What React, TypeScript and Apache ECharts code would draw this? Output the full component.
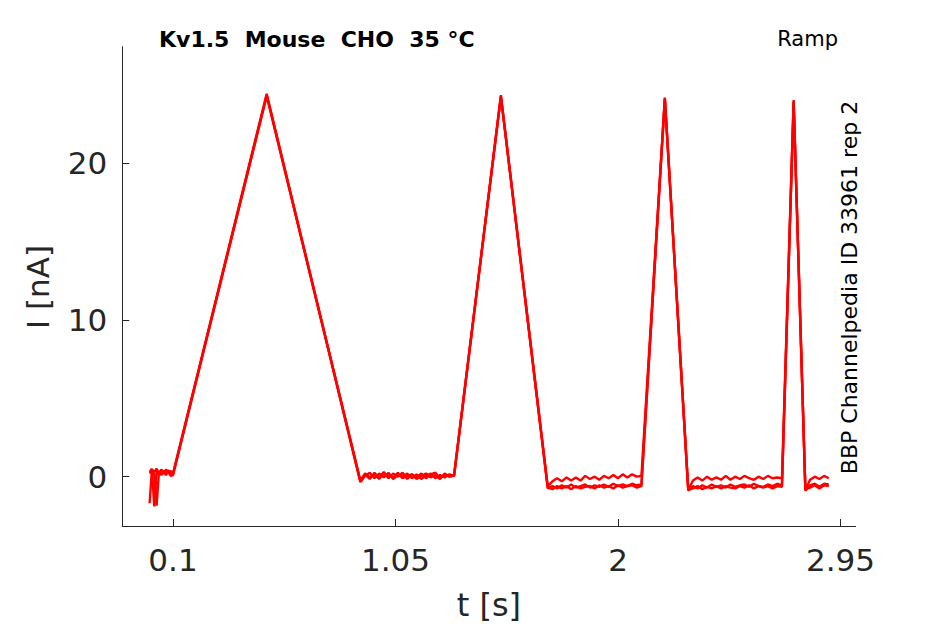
import React, { useEffect, useRef } from "react";
import * as echarts from "echarts";

// time samples [s] shared by all repetitions
const timeS = [
  0, 0.01, 0.02, 0.03, 0.04, 0.05, 0.06, 0.07, 0.08, 0.09, 0.1,
  0.5,
  0.9, 0.92, 0.94, 0.96, 0.98, 1.0, 1.02, 1.04, 1.06, 1.08, 1.1, 1.12, 1.14, 1.16, 1.18, 1.2, 1.22, 1.24, 1.26, 1.28, 1.3,
  1.5,
  1.7, 1.72, 1.74, 1.76, 1.78, 1.8, 1.82, 1.84, 1.86, 1.88, 1.9, 1.92, 1.94, 1.96, 1.98, 2.0, 2.02, 2.04, 2.06, 2.08, 2.1,
  2.2,
  2.3, 2.32, 2.34, 2.36, 2.38, 2.4, 2.42, 2.44, 2.46, 2.48, 2.5, 2.52, 2.54, 2.56, 2.58, 2.6, 2.62, 2.64, 2.66, 2.68, 2.7,
  2.75,
  2.8, 2.82, 2.84, 2.86, 2.88, 2.9,
];

// current [nA], repetition A
const currentA = [
  -1.7, 0.45, 0.3, 0.5, 0.25, 0.4, 0.2, 0.45, 0.3, 0.35, 0.2,
  24.45,
  -0.3, 0.15, -0.15, 0.25, -0.05, 0.3, -0.1, 0.2, 0.0, 0.25, -0.15, 0.15, -0.05, 0.2, -0.1, 0.15, 0.25, -0.1, 0.15, 0.0, 0.1,
  24.35,
  -0.6, -0.3, -0.1, -0.3, -0.05, -0.25, -0.05, -0.25, 0.05, -0.15, 0.0, -0.2, 0.05, -0.1, 0.1, -0.1, 0.15, -0.05, 0.15, 0.0, 0.05,
  24.2,
  -0.85, -0.25, -0.05, -0.25, 0.0, -0.2, -0.05, -0.2, 0.05, -0.2, 0.0, -0.15, 0.05, -0.1, -0.2, 0.0, -0.15, 0.05, -0.1, -0.05, -0.1,
  24.05,
  -0.85, -0.2, 0.0, -0.15, 0.05, -0.1,
];

// current [nA], repetition B
const currentB = [
  0.3, 0.5, -1.9, 0.35, 0.15, 0.45, 0.3, 0.1, 0.4, 0.25, 0.15,
  24.35,
  -0.35, 0.05, 0.25, -0.1, 0.2, -0.05, 0.25, -0.15, 0.1, 0.0, 0.2, -0.1, 0.15, -0.15, 0.05, 0.2, -0.1, 0.1, -0.05, 0.15, 0.05,
  24.3,
  -0.75, -0.6, -0.75, -0.55, -0.7, -0.5, -0.7, -0.6, -0.5, -0.7, -0.55, -0.65, -0.5, -0.65, -0.45, -0.6, -0.5, -0.6, -0.45, -0.55, -0.5,
  24.15,
  -0.9, -0.6, -0.75, -0.55, -0.7, -0.5, -0.65, -0.55, -0.7, -0.5, -0.65, -0.55, -0.5, -0.65, -0.45, -0.6, -0.65, -0.5, -0.6, -0.45, -0.55,
  23.95,
  -0.9, -0.55, -0.45, -0.65, -0.45, -0.5,
];

// current [nA], repetition C
const currentC = [
  0.2, 0.35, 0.15, -1.85, 0.3, 0.1, 0.35, 0.2, 0.3, 0.05, 0.1,
  24.3,
  -0.25, 0.2, -0.05, 0.15, -0.15, 0.2, 0.05, -0.05, 0.25, -0.1, 0.05, 0.15, -0.15, 0.05, 0.2, -0.05, 0.1, -0.15, 0.2, 0.0, 0.05,
  24.25,
  -0.7, -0.8, -0.6, -0.75, -0.6, -0.8, -0.6, -0.75, -0.65, -0.6, -0.75, -0.55, -0.7, -0.6, -0.75, -0.55, -0.7, -0.6, -0.55, -0.7, -0.6,
  24.1,
  -0.85, -0.75, -0.6, -0.8, -0.65, -0.75, -0.6, -0.75, -0.6, -0.7, -0.75, -0.6, -0.7, -0.55, -0.75, -0.6, -0.7, -0.6, -0.75, -0.6, -0.65,
  23.9,
  -0.8, -0.7, -0.55, -0.75, -0.55, -0.6,
];

const xTicks = [0.1, 1.05, 2, 2.95];
const yTicks = [0, 10, 20];

const titleText = "Kv1.5  Mouse  CHO  35 °C";
const protocolText = "Ramp";
const sourceText = "BBP Channelpedia ID 33961 rep 2";
const xName = "t [s]";
const yName = "I [nA]";

const FONT = "DejaVu Sans";
const INK = "#262626";

export default function App() {
  const ref = useRef<HTMLDivElement>(null);

  useEffect(() => {
    if (!ref.current) return;
    const chart = echarts.init(ref.current, undefined, { renderer: "svg" });
    const reps = [currentA, currentB, currentC];
    const gridLeft = 122.3;
    const gridTop = 46.7;
    const gridRight = 855.5;
    const gridBottom = 526;

    chart.setOption({
      animation: false,
      backgroundColor: "#ffffff",
      grid: {
        left: gridLeft,
        top: gridTop,
        width: gridRight - gridLeft,
        height: gridBottom - gridTop,
        containLabel: false,
      },
      xAxis: {
        type: "value",
        min: -0.1165,
        max: 3.014,
        axisLine: { show: true, onZero: false, lineStyle: { color: INK, width: 1 } },
        axisTick: {
          show: true,
          inside: true,
          length: 7,
          customValues: xTicks,
          lineStyle: { color: INK, width: 1 },
        },
        axisLabel: {
          show: true,
          customValues: xTicks,
          margin: 18,
          fontSize: 31,
          fontFamily: FONT,
          color: INK,
          formatter: (v: number) => String(v),
        },
        splitLine: { show: false },
      },
      yAxis: {
        type: "value",
        min: -3.15,
        max: 27.45,
        axisLine: { show: true, onZero: false, lineStyle: { color: INK, width: 1 } },
        axisTick: {
          show: true,
          inside: true,
          length: 7,
          customValues: yTicks,
          lineStyle: { color: INK, width: 1 },
        },
        axisLabel: {
          show: true,
          customValues: yTicks,
          margin: 15,
          fontSize: 31,
          fontFamily: FONT,
          color: INK,
          formatter: (v: number) => String(v),
        },
        splitLine: { show: false },
      },
      series: reps.map((vals, i) => ({
        type: "line",
        name: "rep " + (i + 1),
        data: timeS.map((t, k) => [t, vals[k]]),
        showSymbol: false,
        symbol: "none",
        lineStyle: { color: "#ff0000", width: 2.4 },
        itemStyle: { color: "#ff0000" },
        clip: true,
      })),
      graphic: [
        {
          type: "text",
          left: 159,
          top: 28,
          style: {
            text: titleText,
            font: `bold 22px "${FONT}"`,
            fill: "#000000",
          },
        },
        {
          type: "text",
          x: 838,
          y: 39,
          style: {
            text: protocolText,
            font: `21px "${FONT}"`,
            fill: "#000000",
            align: "right",
            verticalAlign: "middle",
          },
        },
        {
          type: "text",
          x: 849,
          y: 287.5,
          rotation: Math.PI / 2,
          style: {
            text: sourceText,
            font: `22px "${FONT}"`,
            fill: "#000000",
            align: "center",
            verticalAlign: "middle",
          },
        },
        {
          type: "text",
          x: (gridLeft + gridRight) / 2,
          y: 605,
          style: {
            text: xName,
            font: `32px "${FONT}"`,
            fill: INK,
            align: "center",
            verticalAlign: "middle",
          },
        },
        {
          type: "text",
          x: 38,
          y: 287,
          rotation: Math.PI / 2,
          style: {
            text: yName,
            font: `31px "${FONT}"`,
            fill: INK,
            align: "center",
            verticalAlign: "middle",
          },
        },
      ],
    });

    return () => {
      chart.dispose();
    };
  }, []);

  return (
    <div
      ref={ref}
      style={{ position: "absolute", left: 0, top: 0, width: 945, height: 624 }}
    />
  );
}
